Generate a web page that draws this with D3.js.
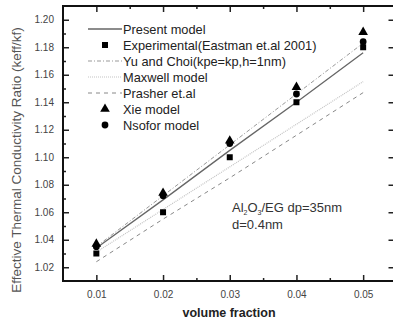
<!DOCTYPE html>
<html>
<head>
<meta charset="utf-8">
<script src="https://cdn.jsdelivr.net/npm/d3@7/dist/d3.min.js"></script>
<style>
  body { margin: 0; background: #fff; overflow: hidden; }
  svg { font-family: "Liberation Sans", Arial, sans-serif; }
  .tick text { fill: #444; font-size: 10px; }
</style>
</head>
<body>
<svg id="chart" width="393" height="322"></svg>
<script>
var fractions = [0.01, 0.02, 0.03, 0.04, 0.05];
var present = [1.034, 1.069, 1.105, 1.140, 1.176];
var experimental = [1.030, 1.060, 1.100, 1.140, 1.180];
var yuChoi = [1.035, 1.072, 1.109, 1.146, 1.183];
var maxwell = [1.031, 1.062, 1.093, 1.124, 1.155];
var prasher = [1.024, 1.055, 1.085, 1.116, 1.147];
var xie = [1.037, 1.074, 1.112, 1.151, 1.191];
var nsofor = [1.035, 1.072, 1.110, 1.146, 1.184];

var xTicks = [0.01, 0.02, 0.03, 0.04, 0.05];
var yTicks = [1.02, 1.04, 1.06, 1.08, 1.10, 1.12, 1.14, 1.16, 1.18, 1.20];

var svg = d3.select("svg#chart"),
  margin = {top: 6, right: -3.5, bottom: 41, left: 63},
  width = +svg.attr("width") - margin.left - margin.right,
  height = +svg.attr("height") - margin.top - margin.bottom;

var x = d3.scaleLinear().domain([0.005, 0.055]).range([0, width]);
var y = d3.scaleLinear().domain([1.01, 1.21]).range([height, 0]);

var g = svg.append("g")
  .attr("transform", "translate(" + margin.left + "," + margin.top + ")");

// minor ticks
var xMinor = [0.015, 0.025, 0.035, 0.045];
var yMinor = [1.03, 1.05, 1.07, 1.09, 1.11, 1.13, 1.15, 1.17, 1.19];

function axisStyle(sel) {
  sel.select(".domain").remove();
  sel.selectAll(".tick line").attr("stroke", "#222").attr("stroke-width", 1.5);
}

g.append("g").attr("transform", "translate(0," + height + ")")
  .call(d3.axisBottom(x).tickValues(xTicks).tickSize(-6).tickPadding(10).tickFormat(d3.format(".2f")))
  .call(axisStyle);
g.append("g").attr("transform", "translate(0," + height + ")")
  .call(d3.axisBottom(x).tickValues(xMinor).tickSize(-3).tickFormat(""))
  .call(axisStyle);
g.append("g")
  .call(d3.axisTop(x).tickValues(xTicks).tickSize(-6).tickFormat(""))
  .call(axisStyle);
g.append("g")
  .call(d3.axisTop(x).tickValues(xMinor).tickSize(-3).tickFormat(""))
  .call(axisStyle);

g.append("g")
  .call(d3.axisLeft(y).tickValues(yTicks).tickSize(-6).tickPadding(9).tickFormat(d3.format(".2f")))
  .call(axisStyle);
g.append("g")
  .call(d3.axisLeft(y).tickValues(yMinor).tickSize(-3).tickFormat(""))
  .call(axisStyle);
g.append("g").attr("transform", "translate(" + width + ",0)")
  .call(d3.axisRight(y).tickValues(yTicks).tickSize(-8).tickFormat(""))
  .call(axisStyle);

// frame
g.append("rect")
  .attr("width", width).attr("height", height)
  .attr("fill", "none").attr("stroke", "#111").attr("stroke-width", 2);

// lines
var styles = [
  {name: "Present model", data: present, color: "#666", dash: null, w: 1.3},
  {name: "Yu and Choi(kpe=kp,h=1nm)", data: yuChoi, color: "#999", dash: "4,2,1,2", w: 1},
  {name: "Maxwell model", data: maxwell, color: "#c4c4c4", dash: "1,1", w: 1.2},
  {name: "Prasher et.al", data: prasher, color: "#888", dash: "4,4", w: 1}
];

var line = d3.line()
  .x(function(d, i) { return x(fractions[i]); })
  .y(function(d) { return y(d); });

styles.forEach(function(s) {
  g.append("path")
    .datum(s.data)
    .attr("fill", "none")
    .attr("stroke", s.color)
    .attr("stroke-width", s.w)
    .attr("stroke-dasharray", s.dash)
    .attr("d", line);
});

// markers
var sq = d3.symbol().type(d3.symbolSquare).size(36);
var tri = d3.symbol().type(d3.symbolTriangle).size(40);
var circ = d3.symbol().type(d3.symbolCircle).size(36);

function markers(data, sym) {
  g.selectAll(null).data(data).enter().append("path")
    .attr("d", sym)
    .attr("fill", "#000")
    .attr("transform", function(d, i) { return "translate(" + x(fractions[i]) + "," + y(d) + ")"; });
}
markers(experimental, sq);
markers(xie, tri);
markers(nsofor, circ);

// legend
var legendItems = [
  {label: "Present model", kind: "line", s: styles[0]},
  {label: "Experimental(Eastman et.al 2001)", kind: "sym", sym: sq},
  {label: "Yu and Choi(kpe=kp,h=1nm)", kind: "line", s: styles[1]},
  {label: "Maxwell model", kind: "line", s: styles[2]},
  {label: "Prasher et.al", kind: "line", s: styles[3]},
  {label: "Xie model", kind: "sym", sym: tri},
  {label: "Nsofor model", kind: "sym", sym: circ}
];

var legend = svg.append("g").attr("transform", "translate(88,29)");
legendItems.forEach(function(it, i) {
  var row = legend.append("g").attr("transform", "translate(0," + (i * 16) + ")");
  if (it.kind === "line") {
    row.append("line").attr("x1", 0).attr("x2", 34).attr("y1", 0).attr("y2", 0)
      .attr("stroke", it.s.color).attr("stroke-width", it.s.w)
      .attr("stroke-dasharray", it.s.dash);
  } else {
    row.append("path").attr("d", it.sym).attr("fill", "#000")
      .attr("transform", "translate(17,0)");
  }
  row.append("text").attr("x", 35).attr("y", 4.5)
    .attr("font-size", "12.8px").attr("fill", "#222").text(it.label);
});

// annotation
var ann = svg.append("text").attr("x", 232).attr("y", 212)
  .attr("font-size", "13px").attr("fill", "#333");
ann.append("tspan").text("Al");
ann.append("tspan").attr("font-size", "7px").attr("dy", 3).text("2");
ann.append("tspan").attr("dy", -3).text("O");
ann.append("tspan").attr("font-size", "7px").attr("dy", 3).text("3");
ann.append("tspan").attr("dy", -3).text("/EG dp=35nm");
svg.append("text").attr("x", 232).attr("y", 229)
  .attr("font-size", "13px").attr("fill", "#333").text("d=0.4nm");

// axis titles
svg.append("text")
  .attr("transform", "translate(21," + 160 + ") rotate(-90)")
  .attr("text-anchor", "middle")
  .attr("font-size", "13.5px").attr("fill", "#555")
  .text("Effective Thermal Conductivity Ratio (keff/kf)");

svg.append("text")
  .attr("x", 229).attr("y", 317)
  .attr("text-anchor", "middle")
  .attr("font-size", "12.5px").attr("font-weight", "bold").attr("fill", "#222")
  .text("volume fraction");
</script>
</body>
</html>
